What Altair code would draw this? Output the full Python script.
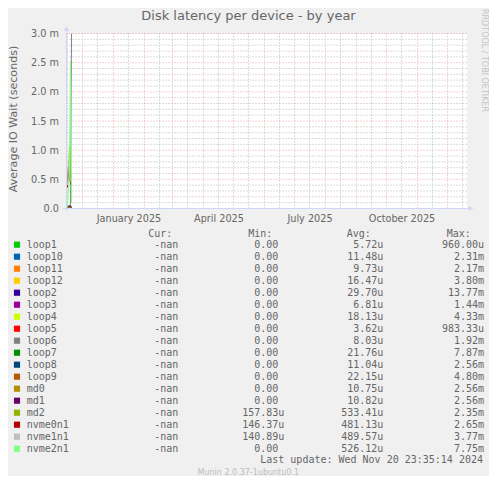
import altair as alt
import pandas as pd

# ---------------- texts ----------------
TITLE = ["Disk latency per device - by year"]
Y_TITLE = ["Average IO Wait (seconds)"]
SIDE_MARK = ["RRDTOOL / TOBI OETIKER"]
FOOTER = ["Munin 2.0.37-1ubuntu0.1"]
LAST_UPDATE = ["Last update: Wed Nov 20 23:35:14 2024"]
HEADERS = ["Cur:", "Min:", "Avg:", "Max:"]

# ---------------- legend table ----------------
devices = ["loop1", "loop10", "loop11", "loop12", "loop2", "loop3", "loop4", "loop5",
           "loop6", "loop7", "loop8", "loop9", "md0", "md1", "md2", "nvme0n1",
           "nvme1n1", "nvme2n1"]
colors = ["#00CC00", "#0066B3", "#FF8000", "#FFCC00", "#330099", "#990099", "#CCFF00",
          "#FF0000", "#808080", "#008F00", "#00487D", "#B35A00", "#B38F00", "#6B006B",
          "#8FB300", "#B30000", "#BEBEBE", "#80FF80"]
cur_vals = ["-nan"] * 18
min_vals = ["0.00"] * 14 + ["157.83u", "146.37u", "140.89u", "0.00"]
avg_vals = ["5.72u", "11.48u", "9.73u", "16.47u", "29.70u", "6.81u", "18.13u", "3.62u",
            "8.03u", "21.76u", "11.04u", "22.15u", "10.75u", "10.82u", "533.41u",
            "481.13u", "489.57u", "526.12u"]
max_vals = ["960.00u", "2.31m", "2.17m", "3.80m", "13.77m", "1.44m", "4.33m", "983.33u",
            "1.92m", "7.87m", "2.56m", "4.80m", "2.56m", "2.56m", "2.35m", "2.65m",
            "3.77m", "7.75m"]

# ---------------- series (milliseconds, daily averages) ----------------
days = ["2024-11-16", "2024-11-17", "2024-11-18", "2024-11-19", "2024-11-20"]
latency_ms = {
    "loop1":   [0.01, 0.02, 0.01, 0.02, 0.01],
    "loop10":  [0.01, 0.02, 0.02, 0.01, 0.01],
    "loop11":  [0.01, 0.01, 0.02, 0.01, 0.01],
    "loop12":  [0.02, 0.02, 0.01, 0.02, 0.01],
    "loop2":   [0.03, 0.04, 0.05, 0.04, 0.03],
    "loop3":   [0.01, 0.01, 0.01, 0.01, 0.01],
    "loop4":   [0.02, 0.02, 0.02, 0.02, 0.01],
    "loop5":   [0.00, 0.01, 0.00, 0.01, 0.00],
    "loop6":   [0.01, 0.01, 0.02, 0.02, 3.00],
    "loop7":   [0.02, 0.03, 0.03, 0.02, 0.02],
    "loop8":   [0.01, 0.01, 0.02, 0.01, 0.01],
    "loop9":   [0.02, 0.03, 0.02, 0.02, 0.02],
    "md0":     [0.01, 0.01, 0.02, 0.01, 0.01],
    "md1":     [0.03, 0.04, 0.04, 0.03, 0.03],
    "md2":     [0.42, 0.60, 1.07, 0.60, 0.50],
    "nvme0n1": [0.36, 0.74, 0.50, 0.45, 0.40],
    "nvme1n1": [0.40, 0.77, 0.55, 0.50, 0.45],
    "nvme2n1": [0.02, 0.35, 0.60, 2.52, 0.10],
}

# axis / grid positions
x_start = (2024, 11, 15)
x_end = (2025, 12, 20)
label_days = [(2025, 1, 16), (2025, 4, 16), (2025, 7, 16), (2025, 10, 16)]
month_starts = [d.strftime("%Y-%m-%d") for d in pd.date_range("2024-12-01", "2025-12-01", freq="MS")]
mid_months = [d.strftime("%Y-%m-16") for d in pd.date_range("2024-11-01", "2025-12-01", freq="MS")]
y_major = [0.5, 1.0, 1.5, 2.0, 2.5, 3.0]
y_minor = [round(i / 10, 1) for i in range(1, 30) if i % 5 != 0]
y_labels = [0.0, 0.5, 1.0, 1.5, 2.0, 2.5, 3.0]

# ---------------- style ----------------
FONT = "DejaVu Sans"
MONO = "DejaVu Sans Mono"
TXT = "#666666"
AXIS_C = "#CFD6F8"
GRID_C = "#b8b8b8"
MGRID_C = "#f0a6a6"


def dt(t):
    return alt.DateTime(year=t[0], month=t[1], date=t[2], utc=True)


x_scale = alt.Scale(type="utc", domain=[dt(x_start), dt(x_end)])
y_scale = alt.Scale(domain=[0, 3], nice=False, zero=True)

x_enc = alt.X("date:T", scale=x_scale,
              axis=alt.Axis(values=[dt(t) for t in label_days],
                            labelExpr="utcFormat(datum.value, '%B %Y')",
                            domain=False, ticks=False, tickSize=0, grid=False,
                            labelPadding=4.5, labelFont=FONT, labelFontSize=9.7,
                            labelColor=TXT, labelFlush=False, labelOverlap=False,
                            title=None))
y_enc = alt.Y("ms:Q", scale=y_scale,
              axis=alt.Axis(values=y_labels,
                            labelExpr="datum.value == 0 ? '0.0' : format(datum.value, '.1f') + ' m'",
                            domain=False, ticks=False, tickSize=0, grid=False,
                            labelPadding=8, labelFont=FONT, labelFontSize=9.7,
                            labelColor=TXT, labelOverlap=False, title=None))

color_scale = alt.Scale(domain=devices, range=colors)

# ---------------- plot layers ----------------
grid_v_minor = alt.Chart(pd.DataFrame({"date": mid_months})).mark_rule(
    color=GRID_C, strokeWidth=1, strokeDash=[1, 2]).encode(x=x_enc)
grid_h_minor = alt.Chart(pd.DataFrame({"ms": y_minor})).mark_rule(
    color=GRID_C, strokeWidth=1, strokeDash=[1, 2]).encode(y=y_enc)
grid_v_major = alt.Chart(pd.DataFrame({"date": month_starts})).mark_rule(
    color=MGRID_C, strokeWidth=1, strokeDash=[1, 2]).encode(x=x_enc)
grid_h_major = alt.Chart(pd.DataFrame({"ms": y_major})).mark_rule(
    color=MGRID_C, strokeWidth=1, strokeDash=[1, 2]).encode(y=y_enc)

rows = []
for dev in devices:
    for d, v in zip(days, latency_ms[dev]):
        rows.append({"date": d, "device": dev, "ms": v})
series_df = pd.DataFrame(rows)

lines = alt.Chart(series_df).mark_line(strokeWidth=1, clip=True).encode(
    x=x_enc, y=y_enc,
    color=alt.Color("device:N", scale=color_scale, legend=None),
    detail="device:N")

axis_y_line = alt.Chart(pd.DataFrame({"a": [0]})).mark_rule(color=AXIS_C, strokeWidth=1).encode(
    x=alt.value(0), y=alt.value(178), y2=alt.value(-4))
axis_x_line = alt.Chart(pd.DataFrame({"a": [0]})).mark_rule(color=AXIS_C, strokeWidth=1).encode(
    x=alt.value(-4), x2=alt.value(403), y=alt.value(175))
arrow_up = alt.Chart(pd.DataFrame({"a": [0]})).mark_point(
    shape="triangle-up", filled=True, size=30, color=AXIS_C, opacity=1).encode(
    x=alt.value(0), y=alt.value(-5))
arrow_right = alt.Chart(pd.DataFrame({"a": [0]})).mark_point(
    shape="triangle-right", filled=True, size=30, color=AXIS_C, opacity=1).encode(
    x=alt.value(404.5), y=alt.value(175))

plot = alt.layer(grid_v_minor, grid_h_minor, grid_v_major, grid_h_major, lines,
                 axis_y_line, axis_x_line, arrow_up, arrow_right)

# ---------------- legend layers ----------------
def split_num(s):
    return s[:-1] if s[-1].isalpha() else s


def split_unit(s):
    return s[-1] if s[-1].isalpha() else ""


leg_df = pd.DataFrame({
    "row": list(range(len(devices))),
    "device": devices,
    "cur": cur_vals,
    "min_n": [split_num(s) for s in min_vals], "min_u": [split_unit(s) for s in min_vals],
    "avg_n": [split_num(s) for s in avg_vals], "avg_u": [split_unit(s) for s in avg_vals],
    "max_n": [split_num(s) for s in max_vals], "max_u": [split_unit(s) for s in max_vals],
})
leg_y = alt.Y("row:Q", scale=alt.Scale(domain=[0, 17], range=[211.2, 415.2], nice=False, zero=False), axis=None)
leg_base = alt.Chart(leg_df)

squares = leg_base.mark_square(size=38, opacity=1).encode(
    x=alt.value(-49.5), y=leg_y,
    color=alt.Color("device:N", scale=color_scale, legend=None))


def mono_text(field, xpos, align):
    return leg_base.mark_text(align=align, baseline="middle", font=MONO, fontSize=10,
                              color=TXT).encode(x=alt.value(xpos), y=leg_y, text=f"{field}:N")


legend = alt.layer(
    squares,
    mono_text("device", -39.8, "left"),
    mono_text("cur", 111.8, "right"),
    mono_text("min_n", 211.8, "right"), mono_text("min_u", 211.8, "left"),
    mono_text("avg_n", 310.8, "right"), mono_text("avg_u", 310.8, "left"),
    mono_text("max_n", 411.5, "right"), mono_text("max_u", 411.5, "left"),
)

# ---------------- decorations ----------------
def deco(texts, xpos, ypos, align="center", font=FONT, size=10, color=TXT, angle=0):
    kw = dict(align=align, baseline="middle", font=font, fontSize=size, color=color)
    if angle:
        kw["angle"] = angle
    return alt.Chart(pd.DataFrame({"t": texts})).mark_text(**kw).encode(
        x=alt.value(xpos), y=alt.value(ypos), text="t:N")


header_x = [81.8, 181.8, 280.2, 380.2]
headers = [deco([h], hx, 200.2, align="left", font=MONO, size=10) for h, hx in zip(HEADERS, header_x)]

decos = alt.layer(
    deco(TITLE, 182, -17.5, size=13),
    deco(Y_TITLE, -52.5, 85.5, size=11.1, angle=270),
    deco(SIDE_MARK, 417.5, 27, size=8, color="#c4c4c4", angle=90),
    deco(LAST_UPDATE, 416.5, 426.5, align="right", font=MONO, size=10),
    deco(FOOTER, 181.8, 439.8, size=8, color="#bdbdbd"),
    *headers,
)

chart = alt.layer(plot, legend, decos).resolve_scale(y="independent").properties(
    width=400, height=175,
    autosize=alt.AutoSizeParams(type="none"),
    padding={"left": 58.5, "top": 25.5, "right": 22.5, "bottom": 267.5},
    background="#f0f0f0",
).configure_view(stroke="transparent", fill="#ffffff")

chart.save("out.html", embed_options={"renderer": "svg", "actions": False})
